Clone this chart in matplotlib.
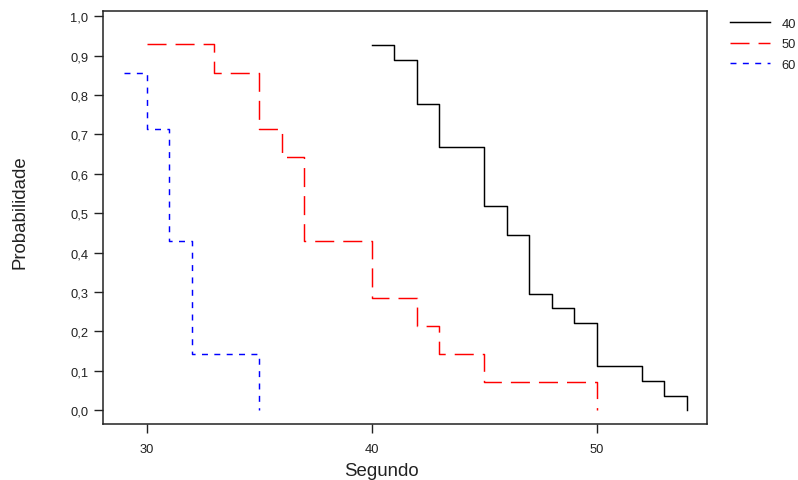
import numpy as np
import matplotlib
matplotlib.use("Agg")
import matplotlib.pyplot as plt
from matplotlib.ticker import FuncFormatter

plt.rcParams["font.family"] = ["Liberation Sans", "DejaVu Sans"]
plt.rcParams["lines.scale_dashes"] = False

# Kaplan-Meier style survival curves (time in seconds, survival probability)
t_40 = [40, 41, 42, 43, 45, 46, 47, 48, 49, 50, 52, 53, 54]
s_40 = [0.926, 0.889, 0.778, 0.667, 0.519, 0.444, 0.296, 0.259, 0.222, 0.111, 0.074, 0.037, 0.0]

t_50 = [30, 33, 35, 36, 37, 40, 42, 43, 45, 50]
s_50 = [0.929, 0.857, 0.714, 0.643, 0.429, 0.286, 0.214, 0.143, 0.071, 0.0]

t_60 = [29, 30, 31, 32, 35]
s_60 = [0.857, 0.714, 0.429, 0.143, 0.0]

labels = ["40", "50", "60"]
x_ticks = [30, 40, 50]
y_ticks = np.round(np.arange(0, 1.01, 0.1), 1)

fig = plt.figure(figsize=(7.98, 4.81), dpi=100)
ax = fig.add_axes([0.129, 0.1164, 0.757, 0.8586])

ax.step(t_40, s_40, where="post", color="black", lw=1.05, label=labels[0])
ax.step(t_50, s_50, where="post", color="red", lw=1.05, dashes=(13.7, 6.5), label=labels[1])
ax.step(t_60, s_60, where="post", color="blue", lw=1.05, dashes=(4.3, 4.6), label=labels[2])

ax.set_xlim(28.05, 54.9)
ax.set_ylim(-0.035, 1.013)
ax.set_xticks(x_ticks)
ax.set_yticks(y_ticks)
ax.yaxis.set_major_formatter(FuncFormatter(lambda v, p: f"{v:.1f}".replace(".", ",")))

txt = "#222222"
for sp in ax.spines.values():
    sp.set_linewidth(1.1)
    sp.set_color(txt)
ax.tick_params(axis="both", length=6.5, width=1.0, color=txt, labelcolor=txt,
               labelsize=9.3)
ax.tick_params(axis="x", pad=7.2)
ax.tick_params(axis="y", pad=4)

ax.set_xlabel("Segundo", fontsize=13.4, color=txt)
ax.set_ylabel("Probabilidade", fontsize=13.4, color=txt)
ax.xaxis.set_label_coords(0.461, -0.093)
ax.yaxis.set_label_coords(-0.1225, 0.515)

ax.legend(loc="upper left", bbox_to_anchor=(0.9148, 0.961), bbox_transform=fig.transFigure,
          frameon=False, fontsize=9.3, handlelength=3.1, handletextpad=0.9,
          labelspacing=0.66, borderpad=0, borderaxespad=0, labelcolor=txt)

fig.savefig("out.png", dpi=100)
